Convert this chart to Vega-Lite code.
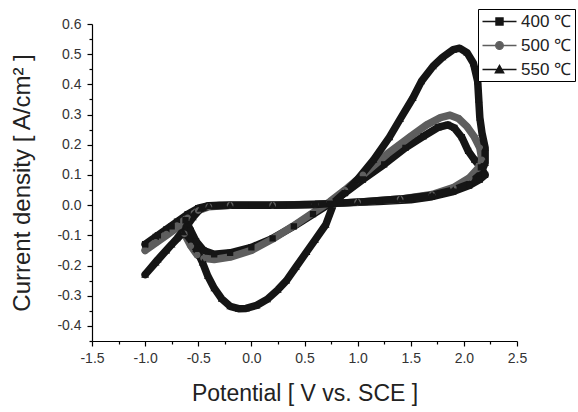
{
  "$schema": "https://vega.github.io/schema/vega-lite/v6.json",
  "width": 425,
  "height": 317,
  "autosize": {"type": "none"},
  "padding": {"left": 92, "top": 24, "right": 61, "bottom": 71},
  "background": "white",
  "config": {"view": {"stroke": null}, "font": "Liberation Sans"},
  "data": {"values": [
    {"s":"400 ℃","o":1,"V":-1.00,"I":-0.13},{"s":"400 ℃","o":2,"V":-0.90,"I":-0.105},{"s":"400 ℃","o":3,"V":-0.80,"I":-0.08},{"s":"400 ℃","o":4,"V":-0.70,"I":-0.055},{"s":"400 ℃","o":5,"V":-0.60,"I":-0.03},{"s":"400 ℃","o":6,"V":-0.50,"I":-0.01},{"s":"400 ℃","o":7,"V":-0.40,"I":-0.002},{"s":"400 ℃","o":8,"V":-0.30,"I":0.0},{"s":"400 ℃","o":9,"V":0.00,"I":0.0},{"s":"400 ℃","o":10,"V":0.30,"I":0.0},{"s":"400 ℃","o":11,"V":0.60,"I":0.003},{"s":"400 ℃","o":12,"V":0.90,"I":0.008},{"s":"400 ℃","o":13,"V":1.20,"I":0.012},{"s":"400 ℃","o":14,"V":1.50,"I":0.018},{"s":"400 ℃","o":15,"V":1.70,"I":0.028},{"s":"400 ℃","o":16,"V":1.90,"I":0.045},{"s":"400 ℃","o":17,"V":2.05,"I":0.065},{"s":"400 ℃","o":18,"V":2.15,"I":0.085},{"s":"400 ℃","o":19,"V":2.20,"I":0.10},{"s":"400 ℃","o":20,"V":2.16,"I":0.125},{"s":"400 ℃","o":21,"V":2.10,"I":0.15},{"s":"400 ℃","o":22,"V":2.04,"I":0.18},{"s":"400 ℃","o":23,"V":1.98,"I":0.225},{"s":"400 ℃","o":24,"V":1.91,"I":0.256},{"s":"400 ℃","o":25,"V":1.85,"I":0.266},{"s":"400 ℃","o":26,"V":1.76,"I":0.258},{"s":"400 ℃","o":27,"V":1.62,"I":0.228},{"s":"400 ℃","o":28,"V":1.45,"I":0.19},{"s":"400 ℃","o":29,"V":1.25,"I":0.135},{"s":"400 ℃","o":30,"V":1.05,"I":0.085},{"s":"400 ℃","o":31,"V":0.88,"I":0.04},{"s":"400 ℃","o":32,"V":0.74,"I":0.005},{"s":"400 ℃","o":33,"V":0.58,"I":-0.03},{"s":"400 ℃","o":34,"V":0.40,"I":-0.07},{"s":"400 ℃","o":35,"V":0.20,"I":-0.11},{"s":"400 ℃","o":36,"V":0.00,"I":-0.14},{"s":"400 ℃","o":37,"V":-0.20,"I":-0.158},{"s":"400 ℃","o":38,"V":-0.35,"I":-0.163},{"s":"400 ℃","o":39,"V":-0.45,"I":-0.15},{"s":"400 ℃","o":40,"V":-0.52,"I":-0.12},{"s":"400 ℃","o":41,"V":-0.57,"I":-0.085},{"s":"400 ℃","o":42,"V":-0.62,"I":-0.05},{"s":"400 ℃","o":43,"V":-0.75,"I":-0.07},{"s":"400 ℃","o":44,"V":-0.88,"I":-0.10},{"s":"400 ℃","o":45,"V":-1.00,"I":-0.13},
    {"s":"500 ℃","o":1,"V":-1.00,"I":-0.15},{"s":"500 ℃","o":2,"V":-0.90,"I":-0.123},{"s":"500 ℃","o":3,"V":-0.80,"I":-0.096},{"s":"500 ℃","o":4,"V":-0.70,"I":-0.068},{"s":"500 ℃","o":5,"V":-0.60,"I":-0.042},{"s":"500 ℃","o":6,"V":-0.50,"I":-0.018},{"s":"500 ℃","o":7,"V":-0.40,"I":-0.005},{"s":"500 ℃","o":8,"V":-0.20,"I":0.0},{"s":"500 ℃","o":9,"V":0.20,"I":0.0},{"s":"500 ℃","o":10,"V":0.60,"I":0.003},{"s":"500 ℃","o":11,"V":1.00,"I":0.01},{"s":"500 ℃","o":12,"V":1.40,"I":0.02},{"s":"500 ℃","o":13,"V":1.70,"I":0.035},{"s":"500 ℃","o":14,"V":1.90,"I":0.058},{"s":"500 ℃","o":15,"V":2.05,"I":0.09},{"s":"500 ℃","o":16,"V":2.13,"I":0.12},{"s":"500 ℃","o":17,"V":2.17,"I":0.15},{"s":"500 ℃","o":18,"V":2.15,"I":0.19},{"s":"500 ℃","o":19,"V":2.10,"I":0.225},{"s":"500 ℃","o":20,"V":2.03,"I":0.26},{"s":"500 ℃","o":21,"V":1.95,"I":0.287},{"s":"500 ℃","o":22,"V":1.87,"I":0.298},{"s":"500 ℃","o":23,"V":1.78,"I":0.29},{"s":"500 ℃","o":24,"V":1.65,"I":0.266},{"s":"500 ℃","o":25,"V":1.50,"I":0.228},{"s":"500 ℃","o":26,"V":1.28,"I":0.17},{"s":"500 ℃","o":27,"V":1.05,"I":0.10},{"s":"500 ℃","o":28,"V":0.88,"I":0.05},{"s":"500 ℃","o":29,"V":0.74,"I":0.012},{"s":"500 ℃","o":30,"V":0.55,"I":-0.032},{"s":"500 ℃","o":31,"V":0.39,"I":-0.07},{"s":"500 ℃","o":32,"V":0.20,"I":-0.112},{"s":"500 ℃","o":33,"V":0.00,"I":-0.15},{"s":"500 ℃","o":34,"V":-0.20,"I":-0.172},{"s":"500 ℃","o":35,"V":-0.35,"I":-0.18},{"s":"500 ℃","o":36,"V":-0.45,"I":-0.176},{"s":"500 ℃","o":37,"V":-0.51,"I":-0.165},{"s":"500 ℃","o":38,"V":-0.57,"I":-0.135},{"s":"500 ℃","o":39,"V":-0.63,"I":-0.095},{"s":"500 ℃","o":40,"V":-0.68,"I":-0.07},{"s":"500 ℃","o":41,"V":-0.80,"I":-0.10},{"s":"500 ℃","o":42,"V":-0.90,"I":-0.125},{"s":"500 ℃","o":43,"V":-1.00,"I":-0.15},
    {"s":"550 ℃","o":1,"V":-1.00,"I":-0.23},{"s":"550 ℃","o":2,"V":-0.90,"I":-0.19},{"s":"550 ℃","o":3,"V":-0.80,"I":-0.15},{"s":"550 ℃","o":4,"V":-0.70,"I":-0.11},{"s":"550 ℃","o":5,"V":-0.62,"I":-0.075},{"s":"550 ℃","o":6,"V":-0.55,"I":-0.04},{"s":"550 ℃","o":7,"V":-0.48,"I":-0.012},{"s":"550 ℃","o":8,"V":-0.40,"I":-0.003},{"s":"550 ℃","o":9,"V":-0.20,"I":0.0},{"s":"550 ℃","o":10,"V":0.20,"I":0.0},{"s":"550 ℃","o":11,"V":0.60,"I":0.002},{"s":"550 ℃","o":12,"V":1.00,"I":0.01},{"s":"550 ℃","o":13,"V":1.40,"I":0.02},{"s":"550 ℃","o":14,"V":1.70,"I":0.033},{"s":"550 ℃","o":15,"V":1.90,"I":0.05},{"s":"550 ℃","o":16,"V":2.05,"I":0.07},{"s":"550 ℃","o":17,"V":2.15,"I":0.10},{"s":"550 ℃","o":18,"V":2.20,"I":0.14},{"s":"550 ℃","o":19,"V":2.20,"I":0.19},{"s":"550 ℃","o":20,"V":2.17,"I":0.24},{"s":"550 ℃","o":21,"V":2.15,"I":0.29},{"s":"550 ℃","o":22,"V":2.14,"I":0.35},{"s":"550 ℃","o":23,"V":2.13,"I":0.41},{"s":"550 ℃","o":24,"V":2.09,"I":0.47},{"s":"550 ℃","o":25,"V":2.03,"I":0.505},{"s":"550 ℃","o":26,"V":1.96,"I":0.52},{"s":"550 ℃","o":27,"V":1.90,"I":0.515},{"s":"550 ℃","o":28,"V":1.80,"I":0.49},{"s":"550 ℃","o":29,"V":1.71,"I":0.46},{"s":"550 ℃","o":30,"V":1.60,"I":0.41},{"s":"550 ℃","o":31,"V":1.52,"I":0.355},{"s":"550 ℃","o":32,"V":1.40,"I":0.285},{"s":"550 ℃","o":33,"V":1.30,"I":0.225},{"s":"550 ℃","o":34,"V":1.15,"I":0.15},{"s":"550 ℃","o":35,"V":1.00,"I":0.085},{"s":"550 ℃","o":36,"V":0.88,"I":0.042},{"s":"550 ℃","o":37,"V":0.78,"I":0.01},{"s":"550 ℃","o":38,"V":0.70,"I":-0.065},{"s":"550 ℃","o":39,"V":0.60,"I":-0.115},{"s":"550 ℃","o":40,"V":0.52,"I":-0.155},{"s":"550 ℃","o":41,"V":0.42,"I":-0.205},{"s":"550 ℃","o":42,"V":0.33,"I":-0.25},{"s":"550 ℃","o":43,"V":0.25,"I":-0.28},{"s":"550 ℃","o":44,"V":0.15,"I":-0.312},{"s":"550 ℃","o":45,"V":0.05,"I":-0.332},{"s":"550 ℃","o":46,"V":-0.05,"I":-0.342},{"s":"550 ℃","o":47,"V":-0.12,"I":-0.343},{"s":"550 ℃","o":48,"V":-0.20,"I":-0.335},{"s":"550 ℃","o":49,"V":-0.28,"I":-0.31},{"s":"550 ℃","o":50,"V":-0.35,"I":-0.275},{"s":"550 ℃","o":51,"V":-0.41,"I":-0.235},{"s":"550 ℃","o":52,"V":-0.46,"I":-0.19},{"s":"550 ℃","o":53,"V":-0.52,"I":-0.145},{"s":"550 ℃","o":54,"V":-0.58,"I":-0.11},{"s":"550 ℃","o":55,"V":-0.64,"I":-0.09},{"s":"550 ℃","o":56,"V":-0.75,"I":-0.13},{"s":"550 ℃","o":57,"V":-0.88,"I":-0.18},{"s":"550 ℃","o":58,"V":-1.00,"I":-0.23}
  ]},
  "encoding": {
    "x": {"field": "V", "type": "quantitative",
      "scale": {"domain": [-1.5, 2.5], "nice": false, "zero": false},
      "axis": {"title": "Potential [ V vs. SCE ]",
        "values": [-1.5,-1.25,-1.0,-0.75,-0.5,-0.25,0,0.25,0.5,0.75,1.0,1.25,1.5,1.75,2.0,2.25,2.5],
        "labelExpr": "abs(datum.value*2 - round(datum.value*2)) < 0.001 ? (datum.value < -0.0001 ? '-' : '') + format(abs(datum.value), '.1f') : ''",
        "tickSize": {"condition": {"test": "abs(datum.value*2 - round(datum.value*2)) < 0.001", "value": 5}, "value": 3},
        "grid": false, "labelOverlap": false, "labelFlush": false,
        "domainColor": "#000", "tickColor": "#000", "domainWidth": 1.2, "tickWidth": 1.2,
        "labelFont": "Liberation Sans", "labelFontSize": 14, "labelColor": "#333", "labelPadding": 5,
        "titleFont": "Liberation Sans", "titleFontSize": 23, "titleFontWeight": "normal", "titleColor": "#222", "titlePadding": 17}},
    "y": {"field": "I", "type": "quantitative",
      "scale": {"domain": [-0.45, 0.6], "nice": false, "zero": false},
      "axis": {"title": "Current density [ A/cm² ]",
        "values": [-0.45,-0.4,-0.35,-0.3,-0.25,-0.2,-0.15,-0.1,-0.05,0,0.05,0.1,0.15,0.2,0.25,0.3,0.35,0.4,0.45,0.5,0.55,0.6],
        "labelExpr": "abs(datum.value*10 - round(datum.value*10)) < 0.001 ? (datum.value < -0.0001 ? '-' : '') + format(abs(datum.value), '.1f') : ''",
        "tickSize": {"condition": {"test": "abs(datum.value*10 - round(datum.value*10)) < 0.001", "value": 5}, "value": 3},
        "grid": false, "labelOverlap": false, "labelFlush": false,
        "domainColor": "#000", "tickColor": "#000", "domainWidth": 1.2, "tickWidth": 1.2,
        "labelFont": "Liberation Sans", "labelFontSize": 14, "labelColor": "#333", "labelPadding": 6,
        "titleFont": "Liberation Sans", "titleFontSize": 24, "titleFontWeight": "normal", "titleColor": "#222", "titlePadding": 22}},
    "order": {"field": "o", "type": "quantitative"}
  },
  "layer": [
    {"mark": {"type": "line", "strokeWidth": 7.5, "interpolate": "linear", "strokeJoin": "round", "strokeCap": "round"},
     "encoding": {"stroke": {"field": "s", "type": "nominal",
        "scale": {"domain": ["400 ℃", "500 ℃", "550 ℃"], "range": ["#151515", "#5e5e5e", "#151515"]},
        "legend": {"title": null, "orient": "none", "legendX": 386, "legendY": -15, "strokeColor": "#000", "fillColor": "white", "padding": 3,
          "labelFont": "Liberation Sans", "labelFontSize": 17, "labelColor": "#222", "symbolSize": 289, "symbolStrokeWidth": 1.3, "rowPadding": 6, "labelOffset": 12, "symbolOffset": 9}}}},
    {"mark": {"type": "point", "filled": true, "size": 225, "opacity": 1},
     "encoding": {
       "fill": {"field": "s", "type": "nominal",
         "scale": {"domain": ["400 ℃", "500 ℃", "550 ℃"], "range": ["#151515", "#5e5e5e", "#151515"]},
         "legend": {"title": null, "orient": "none", "legendX": 386, "legendY": -15, "strokeColor": "#000", "fillColor": "white", "padding": 3,
          "labelFont": "Liberation Sans", "labelFontSize": 17, "labelColor": "#222", "symbolSize": 289, "symbolStrokeWidth": 1.3, "rowPadding": 6, "labelOffset": 12, "symbolOffset": 9}},
       "shape": {"field": "s", "type": "nominal",
         "scale": {"domain": ["400 ℃", "500 ℃", "550 ℃"], "range": ["M-2,0H2M-0.42,-0.42H0.42V0.42H-0.42Z", "M-2,0H2M-0.45,0A0.45,0.45,0,1,0,0.45,0A0.45,0.45,0,1,0,-0.45,0Z", "M-2,0H2M0,-0.5L0.5,0.4H-0.5Z"]},
         "legend": {"title": null, "orient": "none", "legendX": 386, "legendY": -15, "strokeColor": "#000", "fillColor": "white", "padding": 3,
          "labelFont": "Liberation Sans", "labelFontSize": 17, "labelColor": "#222", "symbolSize": 289, "symbolStrokeWidth": 1.3, "rowPadding": 6, "labelOffset": 12, "symbolOffset": 9}}
     }}
  ]
}
